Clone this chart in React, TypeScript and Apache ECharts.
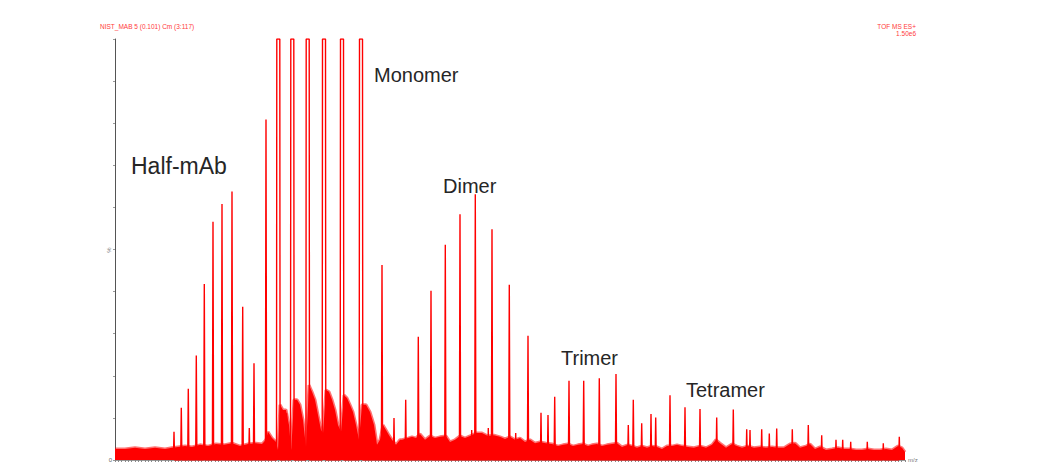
import React, { useEffect, useRef } from "react";
import * as echarts from "echarts";

// m/z positions and relative intensities (%) of the resolved peaks
const peakMz = [
  2590, 2663, 2733, 2813, 2893, 2980, 3070, 3170, 3277, 3343, 3390, 3510,
  3633, 3717, 3773, 3927, 4090, 4270, 4460, 4670,
  4790, 4907, 5033, 5160, 5303, 5450, 5567, 5603, 5733, 5770, 5943, 6007, 6130,
  6260, 6330, 6397, 6540, 6687, 6843, 7010,
  7133, 7183, 7267, 7360, 7407, 7550, 7700, 7850, 8017, 8183, 8317, 8350,
  8467, 8543, 8617, 8773, 8933, 9067, 9210, 9277, 9357, 9523, 9683, 9843,
];
const peakPct = [
  6.7, 12.4, 16.9, 24.8, 41.8, 56.6, 60.8, 63.8, 36.4, 7.6, 23.0, 80.9,
  100, 11.1, 100, 100, 100, 100, 100, 46.3,
  10.0, 14.3, 29.3, 40.2, 51.1, 58.4, 7.1, 63.1, 7.6, 54.8, 41.6, 6.4, 29.5,
  11.2, 10.7, 15.0, 18.8, 18.8, 19.4, 20.4,
  8.3, 14.3, 8.7, 10.9, 10.1, 15.4, 12.5, 12.1, 10.1, 12.0, 7.3, 7.1,
  7.3, 6.3, 7.5, 7.3, 8.3, 5.9, 4.8, 4.8, 4.3, 4.3, 4.0, 5.5,
];

// upper edge of the noisy baseline and peak tails (%) read at these m/z values
const bandMz = [
  2000, 2100, 2200, 2300, 2400, 2500, 2570, 2630, 2700, 2770, 2850, 2930, 3010,
  3090, 3170, 3250, 3330, 3410,
  3470, 3510, 3530, 3570, 3610, 3630, 3650, 3680, 3710, 3740, 3762, 3790, 3820,
  3850, 3880, 3910, 3940, 3970, 4000, 4030, 4060, 4080, 4110, 4140, 4170, 4200,
  4230, 4260, 4290, 4320, 4350, 4380, 4410, 4440, 4470, 4510, 4550, 4590, 4620,
  4650, 4680, 4710, 4740, 4770, 4810, 4850,
  4870, 4930, 4970, 5010, 5050, 5100, 5150, 5200, 5250, 5310, 5350, 5400, 5450,
  5500, 5550, 5610, 5670, 5730, 5790, 5850, 5900, 5950, 6000, 6050, 6100, 6150,
  6200, 6250, 6310, 6370, 6430, 6480, 6530, 6580, 6630, 6680, 6730, 6770, 6820,
  6870, 6920, 6970, 7020, 7070, 7130, 7170, 7220, 7270, 7320, 7370, 7420, 7470,
  7520, 7570, 7620, 7670, 7730, 7790, 7850, 7910, 7970, 8010, 8050, 8110, 8170,
  8220, 8270, 8330, 8390, 8450, 8510, 8570, 8630, 8690, 8750, 8800, 8850, 8910,
  8950, 9000, 9050, 9110, 9170, 9230, 9290, 9350, 9410, 9470, 9530, 9590, 9650,
  9710, 9770, 9830, 9870, 9900,
];
const bandPct = [
  2.6, 2.6, 2.9, 2.6, 2.9, 2.6, 2.9, 3.1, 3.3, 3.1, 3.6, 3.3, 3.8,
  3.6, 4.0, 3.3, 3.8, 4.0,
  3.8, 4.8, 6.7, 5.2, 4.3, 2.4, 13.1, 11.9, 11.9, 8.3, 2.4, 14.3, 14.3,
  13.1, 9.5, 3.1, 17.8, 16.2, 14.3, 10.7, 7.1, 6.4, 16.6, 16.2, 14.3, 11.9,
  8.3, 6.7, 15.4, 14.7, 13.1, 11.4, 8.3, 4.8, 13.1, 13.1, 11.4, 8.3, 3.6,
  4.8, 8.3, 7.1, 5.9, 4.8, 3.6, 4.8,
  4.8, 5.2, 5.5, 5.2, 6.2, 4.8, 5.7, 5.2, 5.5, 5.7, 4.3, 4.8, 5.7,
  5.2, 5.7, 6.4, 6.4, 5.7, 5.9, 5.5, 5.0, 5.5, 4.8, 5.2, 4.3, 4.8,
  4.0, 4.3, 4.0, 3.8, 3.3, 3.6, 3.8, 3.3, 3.6, 3.8, 3.3, 3.6, 3.8,
  3.3, 3.6, 3.8, 4.0, 3.1, 3.6, 3.3, 2.9, 3.3, 2.9, 3.3, 3.1, 2.6,
  3.3, 3.3, 3.6, 3.3, 3.1, 2.9, 3.3, 2.9, 3.6, 4.8, 4.0, 2.9, 3.8,
  3.3, 2.9, 3.3, 2.9, 3.1, 2.9, 3.1, 2.9, 2.9, 3.8, 4.0, 2.9, 3.3,
  3.8, 2.6, 3.1, 2.4, 2.6, 2.9, 2.6, 2.6, 2.4, 2.4, 2.6, 2.4, 2.4,
  2.6, 2.4, 3.3, 2.9, 1.9,
];

const annotations = ["Half-mAb", "Monomer", "Dimer", "Trimer", "Tetramer"];
const headerLeft = "NIST_MAB 5 (0.101) Cm (3:117)";
const headerRight = ["TOF MS ES+", "1.50e6"];

export default function App() {
  const ref = useRef<HTMLDivElement>(null);
  useEffect(() => {
    if (!ref.current) return;
    const chart = echarts.init(ref.current, null, { renderer: "svg" });

    const peakData: number[][] = [];
    peakMz.forEach((m, i) => {
      const h = peakPct[i];
      if (h >= 100) {
        peakData.push([m - 18, 0], [m - 15, 100], [m + 15, 100], [m + 18, 0]);
      } else {
        peakData.push([m - 6, 0], [m, h], [m + 6, 0]);
      }
    });

    const font = "Liberation Sans, Arial, sans-serif";
    const textColor = "#262626";

    chart.setOption({
      animation: false,
      grid: { left: 115, right: 133, top: 39, bottom: 3 },
      xAxis: {
        type: "value",
        min: 2000,
        max: 9900,
        interval: 100,
        name: "m/z",
        nameLocation: "end",
        nameGap: 3,
        nameTextStyle: { fontSize: 6, color: "#777", fontFamily: font, verticalAlign: "middle" },
        axisLine: { show: true, lineStyle: { color: "#999", width: 1 } },
        axisTick: { show: true, length: 2, lineStyle: { color: "#888" } },
        minorTick: { show: true, splitNumber: 3, length: 2, lineStyle: { color: "#888" } },
        axisLabel: { show: false },
        splitLine: { show: false },
      },
      yAxis: {
        type: "value",
        min: 0,
        max: 100,
        interval: 10,
        axisLine: { show: true, lineStyle: { color: "#555", width: 1 } },
        axisTick: { show: true, length: 2, lineStyle: { color: "#999" } },
        axisLabel: {
          formatter: (v: number) => (v === 0 ? "0" : ""),
          fontSize: 6,
          color: "#666",
          margin: 3,
          fontFamily: font,
        },
        splitLine: { show: false },
      },
      series: [
        {
          type: "line",
          data: bandMz.map((m, i) => [m, bandPct[i]]),
          symbol: "none",
          silent: true,
          lineStyle: { color: "rgba(255,0,0,0.55)", width: 3 },
          areaStyle: { color: "#ff0000", opacity: 1 },
          z: 2,
        },
        {
          type: "line",
          data: peakData,
          symbol: "none",
          silent: true,
          clip: true,
          lineStyle: { color: "#ff0000", width: 1.4 },
          z: 3,
        },
      ],
      graphic: [
        {
          type: "text",
          x: 100,
          y: 26,
          style: { text: headerLeft, fill: "#ff3a3a", font: `6.5px ${font}`, verticalAlign: "middle", align: "left" },
        },
        {
          type: "text",
          x: 916,
          y: 26,
          style: { text: headerRight[0], fill: "#ff3a3a", font: `6.5px ${font}`, verticalAlign: "middle", align: "right" },
        },
        {
          type: "text",
          x: 916,
          y: 33,
          style: { text: headerRight[1], fill: "#ff3a3a", font: `6.5px ${font}`, verticalAlign: "middle", align: "right" },
        },
        {
          type: "text",
          x: 109,
          y: 250,
          rotation: Math.PI / 2,
          style: { text: "%", fill: "#777", font: `6px ${font}`, verticalAlign: "middle", align: "center" },
        },
        {
          type: "text",
          x: 131,
          y: 166,
          style: { text: annotations[0], fill: textColor, font: `23px ${font}`, verticalAlign: "middle", align: "left" },
        },
        {
          type: "text",
          x: 374,
          y: 75,
          style: { text: annotations[1], fill: textColor, font: `20px ${font}`, verticalAlign: "middle", align: "left" },
        },
        {
          type: "text",
          x: 443,
          y: 186,
          style: { text: annotations[2], fill: textColor, font: `20px ${font}`, verticalAlign: "middle", align: "left" },
        },
        {
          type: "text",
          x: 561,
          y: 358,
          style: { text: annotations[3], fill: textColor, font: `20px ${font}`, verticalAlign: "middle", align: "left" },
        },
        {
          type: "text",
          x: 686,
          y: 390,
          style: { text: annotations[4], fill: textColor, font: `20px ${font}`, verticalAlign: "middle", align: "left" },
        },
      ],
    });
    return () => chart.dispose();
  }, []);
  return (
    <div
      ref={ref}
      style={{ position: "absolute", left: 0, top: 0, width: 1038, height: 463, background: "#fff" }}
    />
  );
}
